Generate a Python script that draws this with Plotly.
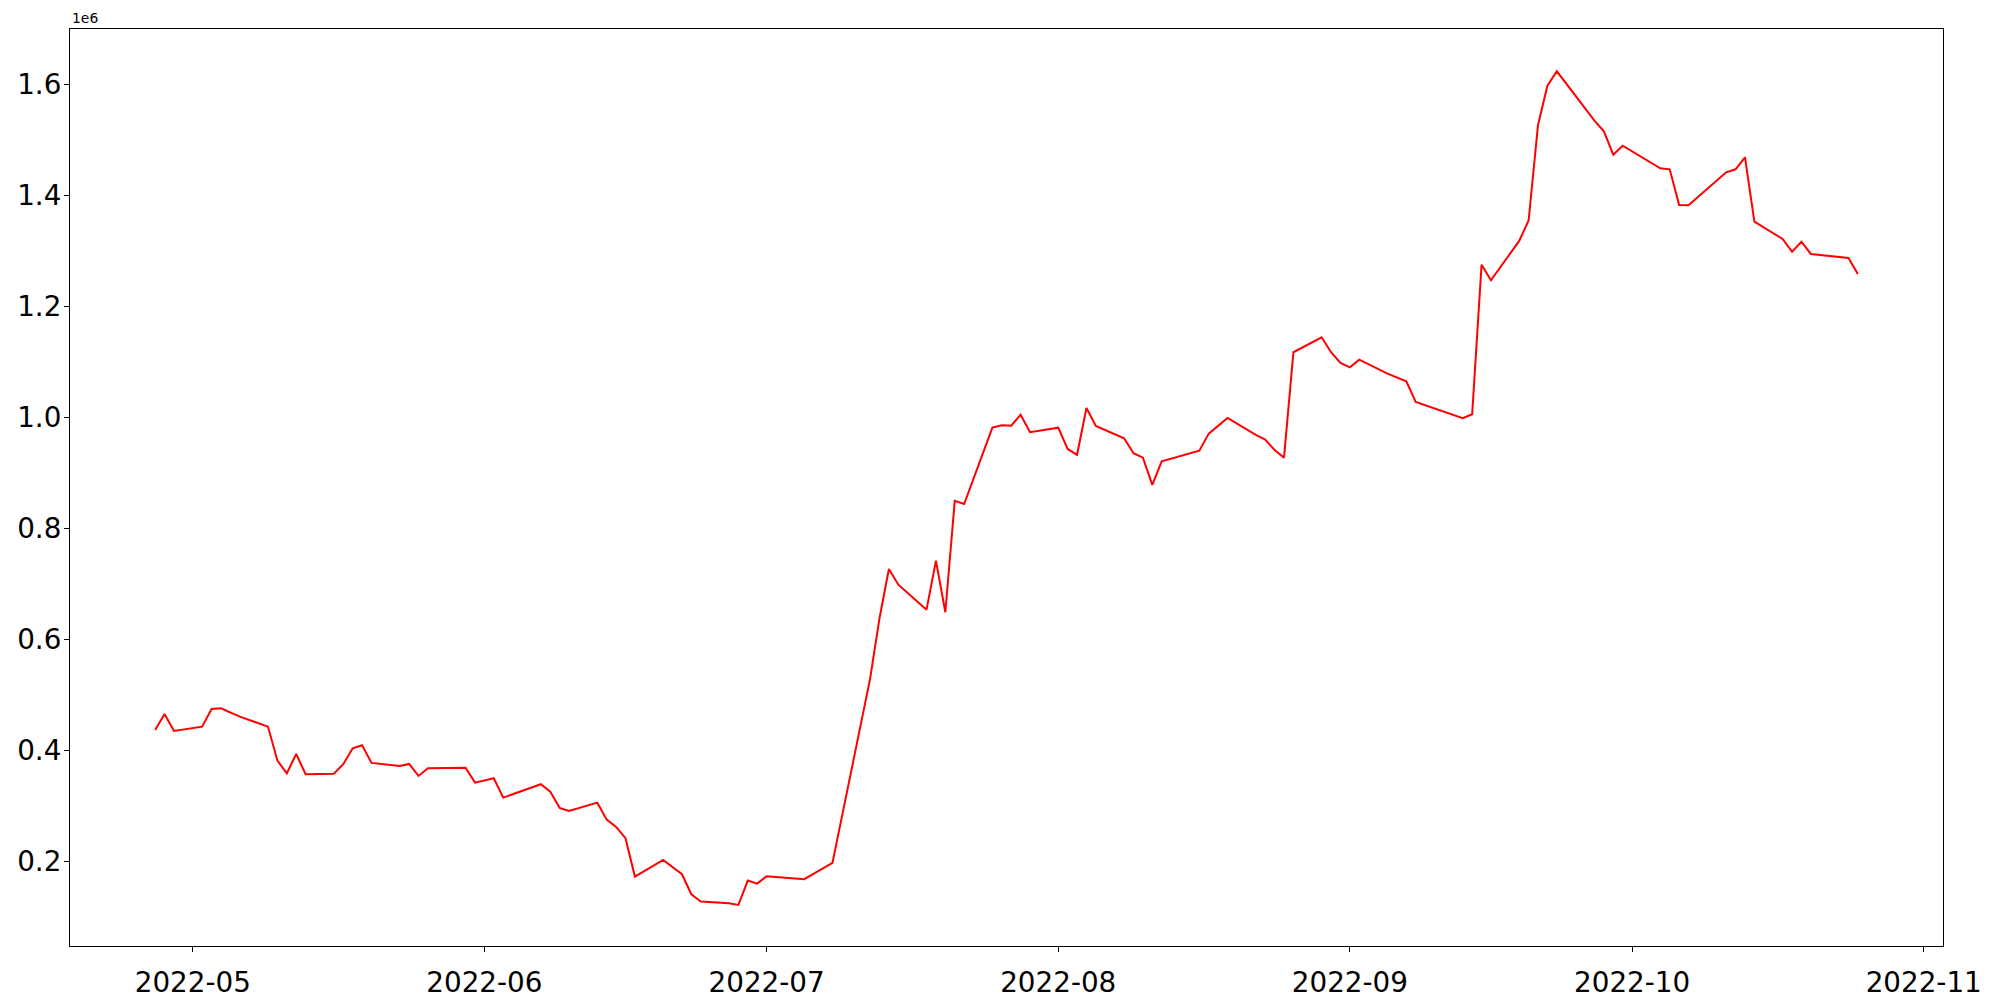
import plotly.graph_objects as go

# Dates of the plotted points (weekdays, only the visible vertices)
dates = [
    "2022-04-27", "2022-04-28", "2022-04-29",
    "2022-05-02", "2022-05-03", "2022-05-04", "2022-05-06", "2022-05-09",
    "2022-05-10", "2022-05-11", "2022-05-12", "2022-05-13", "2022-05-16",
    "2022-05-17", "2022-05-18", "2022-05-19", "2022-05-20", "2022-05-23",
    "2022-05-24", "2022-05-25", "2022-05-26", "2022-05-30", "2022-05-31",
    "2022-06-02", "2022-06-03", "2022-06-07", "2022-06-08", "2022-06-09",
    "2022-06-10", "2022-06-13", "2022-06-14", "2022-06-15", "2022-06-16",
    "2022-06-17", "2022-06-20", "2022-06-22", "2022-06-23", "2022-06-24",
    "2022-06-27", "2022-06-28", "2022-06-29", "2022-06-30",
    "2022-07-01", "2022-07-05", "2022-07-08", "2022-07-12", "2022-07-13",
    "2022-07-14", "2022-07-15", "2022-07-18", "2022-07-19", "2022-07-20",
    "2022-07-21", "2022-07-22", "2022-07-25", "2022-07-26", "2022-07-27",
    "2022-07-28", "2022-07-29",
    "2022-08-01", "2022-08-02", "2022-08-03", "2022-08-04", "2022-08-05",
    "2022-08-08", "2022-08-09", "2022-08-10", "2022-08-11", "2022-08-12",
    "2022-08-16", "2022-08-17", "2022-08-19", "2022-08-22", "2022-08-23",
    "2022-08-24", "2022-08-25", "2022-08-26", "2022-08-29", "2022-08-30",
    "2022-08-31",
    "2022-09-01", "2022-09-02", "2022-09-05", "2022-09-07", "2022-09-08",
    "2022-09-13", "2022-09-14", "2022-09-15", "2022-09-16", "2022-09-19",
    "2022-09-20", "2022-09-21", "2022-09-22", "2022-09-23", "2022-09-27",
    "2022-09-28", "2022-09-29", "2022-09-30",
    "2022-10-04", "2022-10-05", "2022-10-06", "2022-10-07", "2022-10-11",
    "2022-10-12", "2022-10-13", "2022-10-14", "2022-10-17", "2022-10-18",
    "2022-10-19", "2022-10-20", "2022-10-24", "2022-10-25",
]

# Values in units of 1e6
values_millions = [
    0.4365, 0.4650, 0.4347,
    0.4424, 0.4743, 0.4756, 0.4605, 0.4424,
    0.3811, 0.3584, 0.3932, 0.3566, 0.3577,
    0.3747, 0.4035, 0.4089, 0.3770, 0.3716,
    0.3752, 0.3536, 0.3674, 0.3685, 0.3415,
    0.3494, 0.3145, 0.3386, 0.3253, 0.2960,
    0.2905, 0.3054, 0.2748, 0.2616, 0.2413,
    0.1721, 0.2022, 0.1764, 0.1403, 0.1270,
    0.1241, 0.1211, 0.1649, 0.1594,
    0.1728, 0.1674, 0.1968, 0.5284, 0.6378,
    0.7267, 0.6984, 0.6533, 0.7416, 0.6486,
    0.8493, 0.8438, 0.9814, 0.9857, 0.9850,
    1.0048, 0.9731,
    0.9814, 0.9430, 0.9325, 1.0169, 0.9844,
    0.9622, 0.9352, 0.9273, 0.8781, 0.9208,
    0.9399, 0.9706, 0.9989, 0.9682, 0.9598,
    0.9412, 0.9273, 1.1173, 1.1443, 1.1173,
    1.0980,
    1.0902, 1.1039, 1.0787, 1.0650, 1.0277,
    0.9983, 1.0055, 1.2752, 1.2470, 1.3180,
    1.3548, 1.5270, 1.5978, 1.6238, 1.5347,
    1.5156, 1.4734, 1.4897,
    1.4489, 1.4471, 1.3828, 1.3822, 1.4417,
    1.4471, 1.4688, 1.3527, 1.3215, 1.2986,
    1.3166, 1.2945, 1.2873, 1.2584,
]

y_ticks = [0.2, 0.4, 0.6, 0.8, 1.0, 1.2, 1.4, 1.6]
y_tick_labels = ["0.2", "0.4", "0.6", "0.8", "1.0", "1.2", "1.4", "1.6"]
x_ticks = ["2022-05-01", "2022-06-01", "2022-07-01", "2022-08-01",
           "2022-09-01", "2022-10-01", "2022-11-01"]
x_tick_labels = ["2022-05", "2022-06", "2022-07", "2022-08",
                 "2022-09", "2022-10", "2022-11"]

FONT = "DejaVu Sans"

fig = go.Figure()
fig.add_trace(go.Scatter(
    x=dates, y=values_millions, mode="lines",
    line=dict(color="red", width=2),
    showlegend=False,
))

axis_common = dict(
    showline=True, linecolor="black", linewidth=1.1, mirror=True,
    showgrid=False, zeroline=False, automargin=False,
    ticks="outside", ticklen=5, tickwidth=1.1, tickcolor="black",
    tickfont=dict(family=FONT, size=27.8, color="black"),
)

fig.update_layout(
    template="none",
    width=2000, height=1000,
    margin=dict(l=70, r=57, t=29, b=54, autoexpand=False),
    paper_bgcolor="white", plot_bgcolor="white",
    font=dict(family=FONT, color="black"),
    xaxis=dict(
        **axis_common,
        type="date",
        range=["2022-04-17 22:48", "2022-11-03 01:12"],
        tickmode="array", tickvals=x_ticks, ticktext=x_tick_labels,
        ticklabelstandoff=7,
    ),
    yaxis=dict(
        **axis_common,
        range=[0.047, 1.700],
        tickmode="array", tickvals=y_ticks, ticktext=y_tick_labels,
        ticklabelstandoff=-3,
    ),
    annotations=[dict(
        text="1e6", xref="paper", yref="paper", x=0, y=1,
        xanchor="left", yanchor="bottom", showarrow=False,
        font=dict(family=FONT, size=13.9, color="black"), yshift=1,
    )],
)

fig.write_html(
    "out.html",
    config={"displayModeBar": False},
    post_script="document.body.style.margin='0';document.body.style.overflow='hidden';",
)
